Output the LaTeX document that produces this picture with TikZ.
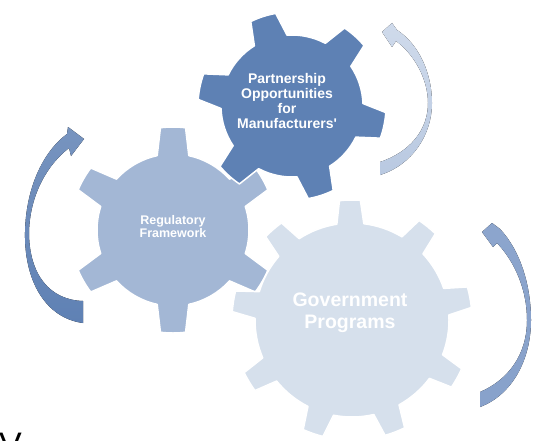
\documentclass[tikz,border=0pt]{standalone}
\usepackage{fontspec}
\setmainfont{Liberation Sans}
\definecolor{partblue}{HTML}{5E81B4}
\definecolor{regblue}{HTML}{A3B7D5}
\definecolor{govblue}{HTML}{D6E0EC}
\definecolor{leftarrow}{HTML}{5F81B4}
\definecolor{toparrow}{HTML}{C3D1E6}
\definecolor{lowarrow}{HTML}{8CA5CD}

\begin{document}
\begin{tikzpicture}
[x=1pt,y=1pt,
  gearfill/.style={draw=white,line width=1.5pt,line join=round},
  geartext/.style={text=white,align=center,inner sep=0pt},
  arrowfill/.style={draw=none}]
\useasboundingbox (0,0) rectangle (534,440);
%% gears: name/centre/inner and outer radius/teeth/offset/half widths/colour
\foreach \gname/\cx/\cy/\rin/\rout/\num/\off/\bw/\tw/\col in {
  reg/173/210/76/103/6/30/12/7/regblue,
  part/292/334/71/94/6/108/14/8/partblue,
  gov/352/120/97/120/9/91/8/5/govblue}
{
  \pgfmathsetmacro{\gstep}{360/\num}
  \filldraw[gearfill,fill=\col,shift={(\cx,\cy)}]
    ({\off-\bw}:\rin)
    \foreach \k in {1,...,\num} {
      -- ({\off+(\k-1)*\gstep-\tw}:\rout)
      arc[start angle={\off+(\k-1)*\gstep-\tw},
          end angle={\off+(\k-1)*\gstep+\tw}, radius=\rout]
      -- ({\off+(\k-1)*\gstep+\bw}:\rin)
      arc[start angle={\off+(\k-1)*\gstep+\bw},
          end angle={\off+\k*\gstep-\bw}, radius=\rin]
    } -- cycle;
}
%% labels
\node (regtext) at (173,213) [geartext,font=\bfseries\fontsize{12.5}{13}\selectfont]
  {Regulatory\\Framework};
\node (parttext) at (287,339) [geartext,font=\bfseries\fontsize{14}{15.3}\selectfont]
  {Partnership\\Opportunities\\for\\Manufacturers\textquotesingle};
\node (govtext) at (350,127) [geartext,font=\bfseries\fontsize{19.5}{22}\selectfont]
  {Government\\Programs};
%% circular arrows
\fill[arrowfill,top color=leftarrow!85,bottom color=leftarrow!100!black]
  (83,117) .. controls (45,122) and (24,160) .. (25,208)
  .. controls (26,255) and (45,290) .. (67,306)
  -- (68,313) -- (84,301) -- (71,284) -- (69,292)
  .. controls (47,275) and (30,245) .. (29,208)
  .. controls (29,165) and (50,140) .. (83,139) -- cycle;
\fill[arrowfill,top color=toparrow!80,bottom color=toparrow!90!leftarrow]
  (380,265) .. controls (412,275) and (432,305) .. (432,337)
  .. controls (432,365) and (420,395) .. (397,410)
  -- (392,417) -- (382,408) -- (392,393) -- (396,399)
  .. controls (415,385) and (428,360) .. (428,337)
  .. controls (428,310) and (410,288) .. (380,278) -- cycle;
\fill[arrowfill,top color=lowarrow,bottom color=lowarrow!90!leftarrow]
  (480,33) .. controls (512,45) and (531,80) .. (531,120)
  .. controls (531,155) and (520,190) .. (500,211)
  -- (492,217) -- (482,208) -- (493,193) -- (497,197)
  .. controls (515,178) and (527,150) .. (527,120)
  .. controls (527,85) and (508,60) .. (480,48) -- cycle;
%% cut-off letter at the lower edge
\begin{scope}
\clip (0,0) rectangle (534,440);
\node (cutletter) at (-1,-16) [anchor=base west,inner sep=0pt,font=\fontsize{34}{34}\selectfont] {V};
\end{scope}
\end{tikzpicture}
\end{document}
